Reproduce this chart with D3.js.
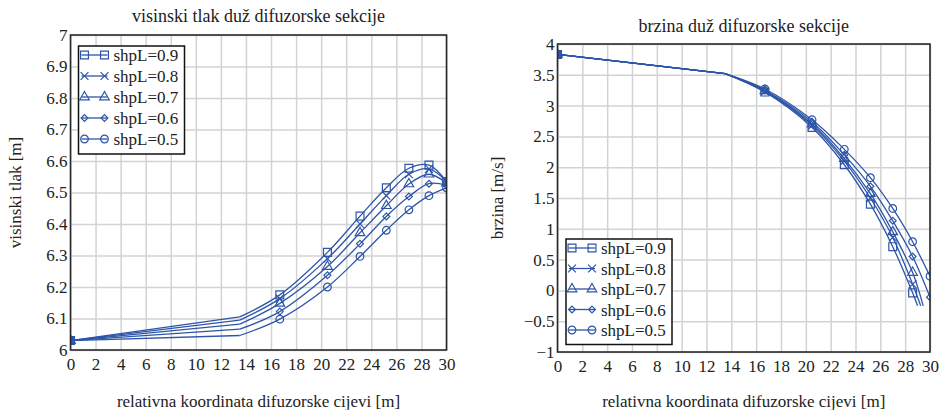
<!DOCTYPE html>
<html>
<head>
<meta charset="utf-8">
<script src="https://cdn.jsdelivr.net/npm/d3@7"></script>
<style>
  body { margin: 0; background: #fff; }
  svg text { font-family: "Liberation Serif", "Times New Roman", serif; fill: #222; }
  .grid line { stroke: #d3d3d3; stroke-width: 1.5; }
  .grid path { display: none; }
  .axis path, .axis line { display: none; }
  .line { fill: none; stroke: #2d55a8; stroke-width: 1.3; }
  .marker { fill: none; stroke: #2d55a8; stroke-width: 1.2; }
</style>
</head>
<body>
<div id="wrapper"></div>
<script>
// shared x positions along the diffuser [m]
const xPoints = [0, 13.5, 16.7, 20.5, 23.1, 25.2, 27, 28.6, 30];
const seriesNames = ["shpL=0.9", "shpL=0.8", "shpL=0.7", "shpL=0.6", "shpL=0.5"];
const markerTypes = ["square", "x", "triangle", "diamond", "circle"];

// visinski tlak [m]
const tlak09 = [6.03, 6.105, 6.175, 6.31, 6.425, 6.515, 6.577, 6.587, 6.535];
const tlak08 = [6.03, 6.095, 6.163, 6.29, 6.40, 6.49, 6.558, 6.575, 6.535];
const tlak07 = [6.03, 6.082, 6.148, 6.265, 6.372, 6.458, 6.527, 6.558, 6.53];
const tlak06 = [6.03, 6.066, 6.122, 6.237, 6.337, 6.424, 6.487, 6.528, 6.523];
const tlak05 = [6.03, 6.046, 6.098, 6.200, 6.297, 6.38, 6.445, 6.49, 6.515];

// brzina [m/s] (last x is where each series ends)
const brzina09 = [3.83, 3.52, 3.22, 2.645, 2.04, 1.40, 0.71, -0.04, -0.25];
const brzina08 = [3.83, 3.52, 3.23, 2.675, 2.10, 1.50, 0.86, 0.10, -0.25];
const brzina07 = [3.83, 3.52, 3.24, 2.70, 2.14, 1.57, 0.95, 0.29, -0.25];
const brzina06 = [3.83, 3.52, 3.25, 2.735, 2.20, 1.69, 1.13, 0.55, -0.11];
const brzina05 = [3.83, 3.52, 3.27, 2.77, 2.29, 1.83, 1.33, 0.79, 0.23];
const brzinaEndX = [29.0, 29.25, 29.45, 30, 30];

const tlakTicks = [6, 6.1, 6.2, 6.3, 6.4, 6.5, 6.6, 6.7, 6.8, 6.9, 7];
const brzinaTicks = [-1, -0.5, 0, 0.5, 1, 1.5, 2, 2.5, 3, 3.5, 4];
const xTicks = d3.range(0, 31, 2);

const FONT = '"Liberation Serif", "Times New Roman", serif';

const svg = d3.select("#wrapper")
    .append("svg")
    .attr("width", 944)
    .attr("height", 410);

const symbolFor = {
    square: d3.symbol(d3.symbolSquare, 62),
    x: d3.symbol(d3.symbolX, 42),
    triangle: d3.symbol(d3.symbolTriangle, 40),
    diamond: d3.symbol(d3.symbolDiamond2, 30),
    circle: d3.symbol(d3.symbolCircle, 46),
};

function drawChart(opts) {
    const { id, left, top, width, height, title, yLabel, yDomain, yTicks, yFormat, series, legend } = opts;

    const g = svg.append("g").attr("transform", `translate(${left}, ${top})`);

    g.append("defs").append("clipPath")
        .attr("id", `clip-${id}`)
        .append("rect")
        .attr("width", width)
        .attr("height", height);

    const xScale = d3.scaleLinear().domain([0, 30]).range([0, width]);
    const yScale = d3.scaleLinear().domain(yDomain).range([height, 0]);

    // grid
    g.append("g").attr("class", "grid")
        .call(d3.axisLeft(yScale).tickValues(yTicks).tickSize(-width).tickFormat(""));
    g.append("g").attr("class", "grid")
        .attr("transform", `translate(0, ${height})`)
        .call(d3.axisBottom(xScale).tickValues(xTicks).tickSize(-height).tickFormat(""));

    // tick labels
    g.append("g").attr("class", "axis")
        .call(d3.axisLeft(yScale).tickValues(yTicks).tickSize(0).tickPadding(3).tickFormat(yFormat))
        .attr("font-family", FONT)
        .attr("font-size", 17);

    g.append("g").attr("class", "axis")
        .attr("transform", `translate(0, ${height})`)
        .call(d3.axisBottom(xScale).tickValues(xTicks).tickSize(0).tickPadding(8).tickFormat(d3.format("d")))
        .attr("font-family", FONT)
        .attr("font-size", 17);

    // data
    const clip = g.append("g").attr("clip-path", `url(#clip-${id})`);
    const straight = d3.line().x(d => xScale(d[0])).y(d => yScale(d[1]));
    const smooth = d3.line().x(d => xScale(d[0])).y(d => yScale(d[1])).curve(d3.curveCatmullRom.alpha(0.5));

    series.forEach((s, i) => {
        const pts = s.xs.map((x, j) => [x, s.values[j]]);
        clip.append("path").attr("class", "line").attr("d", straight(pts.slice(0, 2)));
        clip.append("path").attr("class", "line").attr("d", smooth(pts.slice(1)));
        // markers at every point except the kink at 13.5 and a free end
        pts.forEach((p, j) => {
            if (j === 1) return;
            if (j === pts.length - 1 && p[0] < 30) return;
            clip.append("path")
                .attr("class", "marker")
                .attr("transform", `translate(${xScale(p[0])}, ${yScale(p[1])})`)
                .attr("d", symbolFor[markerTypes[i]]());
        });
    });

    // frame
    g.append("rect")
        .attr("width", width)
        .attr("height", height)
        .attr("fill", "none")
        .attr("stroke", "#2a2a2a")
        .attr("stroke-width", 1.6);

    // title + labels
    g.append("text")
        .attr("x", width / 2)
        .attr("y", opts.titleY)
        .attr("text-anchor", "middle")
        .style("font-size", "18px")
        .text(title);

    g.append("text")
        .attr("x", width / 2)
        .attr("y", 407 - top)
        .attr("text-anchor", "middle")
        .style("font-size", "17px")
        .text("relativna koordinata difuzorske cijevi [m]");

    g.append("text")
        .attr("transform", `translate(${opts.yLabelX}, ${height / 2}) rotate(-90)`)
        .attr("text-anchor", "middle")
        .style("font-size", "17px")
        .text(yLabel);

    // legend
    const lg = g.append("g").attr("transform", `translate(${legend.x}, ${legend.y})`);
    lg.append("rect")
        .attr("width", 106)
        .attr("height", legend.rowH * 5 + 3)
        .attr("fill", "#fff")
        .attr("stroke", "#111")
        .attr("stroke-width", 1.5);
    seriesNames.forEach((name, i) => {
        const cy = 9 + i * legend.rowH;
        lg.append("line")
            .attr("x1", 3).attr("x2", 29)
            .attr("y1", cy).attr("y2", cy)
            .attr("stroke", "#2d55a8").attr("stroke-width", 1.3);
        [6, 26].forEach(mx => {
            lg.append("path")
                .attr("class", "marker")
                .attr("transform", `translate(${mx}, ${cy})`)
                .attr("d", symbolFor[markerTypes[i]]());
        });
        lg.append("text")
            .attr("x", 35)
            .attr("y", cy + 6)
            .style("font-size", "17px")
            .text(name);
    });
}

drawChart({
    id: "tlak",
    left: 70.5, top: 35, width: 376, height: 315,
    title: "visinski tlak duž difuzorske sekcije",
    titleY: -13,
    yLabel: "visinski tlak [m]",
    yLabelX: -50,
    yDomain: [6, 7],
    yTicks: tlakTicks,
    yFormat: d => d3.format("~g")(d),
    series: [tlak09, tlak08, tlak07, tlak06, tlak05].map(v => ({ xs: xPoints, values: v })),
    legend: { x: 8, y: 11, rowH: 21 },
});

drawChart({
    id: "brzina",
    left: 557.5, top: 44, width: 372.5, height: 308,
    title: "brzina duž difuzorske sekcije",
    titleY: -12,
    yLabel: "brzina [m/s]",
    yLabelX: -55,
    yDomain: [-1, 4],
    yTicks: brzinaTicks,
    yFormat: d => (d < 0 ? "\u2212" : "") + d3.format("~g")(Math.abs(d)),
    series: [brzina09, brzina08, brzina07, brzina06, brzina05].map((v, i) => ({
        xs: xPoints.slice(0, 8).concat([brzinaEndX[i]]),
        values: v,
    })),
    legend: { x: 8.5, y: 195, rowH: 20.5 },
});
</script>
</body>
</html>
